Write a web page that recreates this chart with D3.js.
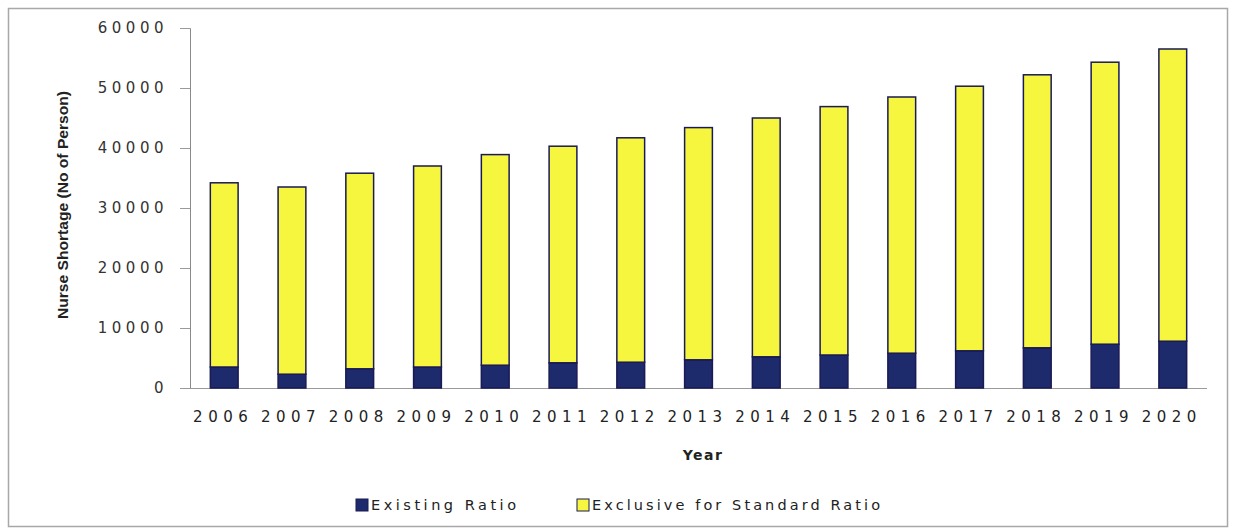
<!DOCTYPE html>
<html>
<head>
<meta charset="utf-8">
<script src="https://cdn.jsdelivr.net/npm/d3@7"></script>
<style>
  html, body { margin: 0; padding: 0; background: #fff; }
  svg { display: block; }
</style>
</head>
<body>
<svg id="chart" width="1235" height="532"></svg>
<script>
// Nurse shortage projection, stacked by ratio basis
const years = ["2006","2007","2008","2009","2010","2011","2012","2013","2014","2015","2016","2017","2018","2019","2020"];
const existingRatio = [3500, 2300, 3200, 3500, 3800, 4200, 4300, 4700, 5200, 5500, 5800, 6200, 6700, 7300, 7800];
const exclusiveStandard = [30700, 31200, 32600, 33500, 35100, 36100, 37400, 38700, 39800, 41400, 42700, 44100, 45500, 47000, 48700];
const yTicks = [0, 10000, 20000, 30000, 40000, 50000, 60000];
const seriesNames = ["Existing Ratio", "Exclusive for Standard Ratio"];
const seriesColors = ["#1d2a6b", "#f6f63e"];

const svg = d3.select("#chart");
const font = "'DejaVu Sans', Verdana, sans-serif";

// outer frame
svg.append("rect")
  .attr("x", 8.5).attr("y", 8.5).attr("width", 1219).attr("height", 518)
  .attr("fill", "#fff").attr("stroke", "#a8a8a8").attr("stroke-width", 1.5);

const plot = { left: 190, right: 1207, top: 28, bottom: 388 };

const x = d3.scaleBand().domain(years).range([plot.left, plot.right]).paddingInner(0.59).paddingOuter(0.3);
const y = d3.scaleLinear().domain([0, 60000]).range([plot.bottom, plot.top]);

const rows = years.map((yr, i) => ({ year: yr, existing: existingRatio[i], exclusive: exclusiveStandard[i] }));
const stacked = d3.stack().keys(["existing", "exclusive"])(rows);

// y axis
const yAxis = svg.append("g")
  .attr("transform", `translate(${plot.left},0)`)
  .call(d3.axisLeft(y).tickValues(yTicks).tickSize(10).tickPadding(12).tickFormat(d3.format("d")));
yAxis.select(".domain").attr("stroke", "#8a8a8a");
yAxis.selectAll(".tick line").attr("stroke", "#9a9a9a");
yAxis.selectAll(".tick text")
  .attr("font-family", font).attr("font-size", 15).attr("fill", "#333")
  .attr("letter-spacing", "4.5px");

// x axis
const xAxis = svg.append("g")
  .attr("transform", `translate(0,${plot.bottom})`)
  .call(d3.axisBottom(x).tickSize(0).tickPadding(23));
xAxis.select(".domain").attr("stroke", "#9a9a9a").attr("d", `M${plot.left},0.5H${plot.right}`);
xAxis.selectAll(".tick text")
  .attr("font-family", font).attr("font-size", 15).attr("fill", "#222")
  .attr("letter-spacing", "5.5px").attr("dx", "-1");

// stacked bars
svg.append("g").selectAll("g")
  .data(stacked)
  .join("g")
  .attr("fill", (d, i) => seriesColors[i])
  .selectAll("rect")
  .data(d => d)
  .join("rect")
  .attr("x", d => x(d.data.year))
  .attr("y", d => y(d[1]))
  .attr("width", x.bandwidth())
  .attr("height", d => y(d[0]) - y(d[1]))
  .attr("stroke", "#1a1a55")
  .attr("stroke-width", 1.5);

// axis titles
svg.append("text")
  .attr("transform", "translate(68,205) rotate(-90)")
  .attr("text-anchor", "middle")
  .attr("font-family", "'Liberation Sans Narrow', 'Arial Narrow', 'Liberation Sans', sans-serif")
  .attr("font-size", 15).attr("font-weight", "bold").attr("fill", "#222")
  .attr("textLength", 228).attr("lengthAdjust", "spacingAndGlyphs")
  .text("Nurse Shortage (No of Person)");

svg.append("text")
  .attr("x", 703).attr("y", 460)
  .attr("text-anchor", "middle")
  .attr("font-family", font).attr("font-size", 14).attr("font-weight", "bold").attr("fill", "#222")
  .attr("letter-spacing", "1.5px")
  .text("Year");

// legend
const legendPos = [356, 577];
const legendWidths = [145, 288];
const legend = svg.append("g");
seriesNames.forEach((name, i) => {
  legend.append("rect")
    .attr("x", legendPos[i]).attr("y", 499).attr("width", 12).attr("height", 12)
    .attr("fill", seriesColors[i]).attr("stroke", "#1a1a55").attr("stroke-width", 1);
  legend.append("text")
    .attr("x", legendPos[i] + 15).attr("y", 510)
    .attr("font-family", font).attr("font-size", 14.5).attr("fill", "#222")
    .attr("textLength", legendWidths[i]).attr("lengthAdjust", "spacing")
    .text(name);
});
</script>
</body>
</html>
